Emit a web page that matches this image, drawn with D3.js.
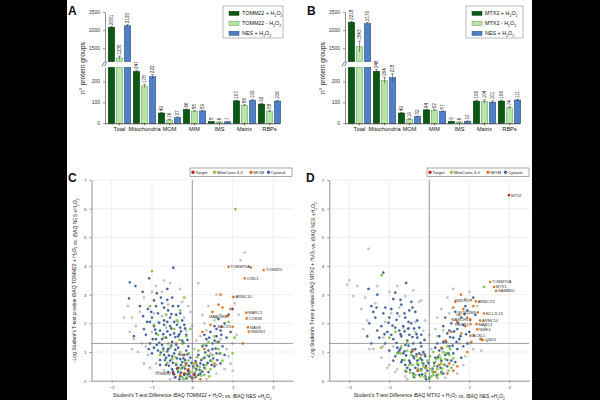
<!DOCTYPE html>
<html>
<head>
<meta charset="utf-8">
<script src="https://cdn.jsdelivr.net/npm/d3@7"></script>
<style>
  body { margin: 0; background: #000; }
  svg { display: block; font-family: "Liberation Sans", Arial, sans-serif; }
</style>
</head>
<body>
<div id="fig"></div>
<script>
// ---- bar chart data ----
const categories = ["Total", "Mitochondria", "MOM", "MIM", "IMS", "Matrix", "RBPs"];
const seriesA = ["TOMM22 + H2O2", "TOMM22 - H2O2", "NES + H2O2"];
const valuesA = [[2081, 1235, 2120], [247, 178, 222], [49, 16, 27], [66, 58, 59], [8, 6, 7], [107, 86, 109], [92, 58, 106]];
const errorsA = [[20, 50, 30], [5, 8, 10], [2, 3, 3], [2, 2, 2], [1, 1, 1], [3, 3, 4], [3, 4, 3]];
const seriesB = ["MTX2 + H2O2", "MTX2 - H2O2", "NES + H2O2"];
const valuesB = [[2218, 1543, 2179], [248, 204, 218], [49, 19, 32], [64, 62, 57], [9, 6, 10], [106, 104, 101], [106, 74, 111]];
const errorsB = [[25, 150, 30], [8, 15, 18], [2, 3, 2], [2, 2, 2], [1, 1, 1], [5, 8, 6], [4, 5, 3]];
const lowTicks = [0, 100, 200];
const highTicks = [1500, 2000, 2500];

// ---- volcano data: [difference, -log p] ----
const scatterTicksX = [-2, -1, 0, 1, 2];
const scatterTicksY = [0, 1, 2, 3, 4, 5, 6, 7];
const legendNames = ["Target", "MitoCarta 3.0", "MOM", "Cytosol"];

const greyC = [[-1.6,2.6],[-1.7,2.2],[-1.5,2.2],[-1.3,2.4],[-1.2,2.9],[-0.9,3.3],[-0.7,3.5],[-0.55,3.4],[-0.3,3.2],[-0.1,2.6],[-1.4,1.9],[-1.55,1.7],[-1.25,1.3],[-1.35,1.0],[-1.1,0.9],[-0.9,0.6],[-0.7,0.35],[-0.45,0.1],[0.15,3.4],[0.25,2.3],[0.4,2.6],[0.55,2.1],[0.7,1.45],[0.85,1.1],[0.95,0.6],[1.0,0.35],[1.2,4.2],[1.3,4.47],[0.35,0.05],[0.6,0.25],[-0.6,2.65],[-0.85,2.05],[-1.0,1.7],[-0.2,2.2],[0.1,1.4],[0.0,1.9],[-0.05,2.4],[0.3,2.0],[-1.2,0.6],[-1.45,1.45],[1.05,2.7],[0.8,0.4],[-0.75,3.1],[-1.0,3.1],[1.15,2.3],[0.6,3.0],
  [-0.95,2.35],[-1.15,1.2],[-0.65,1.85],[-0.35,2.05],[-0.15,1.75],[0.05,1.1],[0.2,1.55],[0.45,0.95],[0.6,0.55],[-0.85,0.3],[-0.55,0.05],[0.9,0.85],[1.1,1.6],[-1.5,1.1],[-1.05,0.45],[-0.25,2.75],[0.35,1.75],[-0.75,2.25],[0.7,2.3],[1.0,1.3]];
const blueC = [[-1.55,3.43],[-1.07,3.57],[-1.41,3.3],[-1.23,3.1],[-1.57,2.87],[-0.47,3.94],[-0.88,3.05],[-0.62,3.2],[-0.95,2.8],[-1.3,2.6],[-1.1,2.5],[-0.75,2.7],[-0.5,2.9],[-0.35,2.6],[-1.45,1.55],[-1.2,1.8],[-1.0,2.2],[-0.85,2.35],[-0.6,2.45],[-0.4,2.3],[-0.25,2.1],[-0.7,2.1],[-0.95,1.9],[-1.15,1.6],[-0.8,1.75],[-0.55,1.9],[-0.3,1.85],[-0.15,1.6],[-0.45,1.65],[-0.65,1.5],[-0.9,1.45],[-1.05,1.3],[-0.75,1.25],[-0.5,1.35],[-0.25,1.4],[-0.1,1.2],[-0.35,1.15],[-0.6,1.1],[-0.85,1.05],[-1.0,0.95],[-0.7,0.9],[-0.45,0.95],[-0.2,0.9],[-0.05,0.8],[-0.3,0.75],[-0.55,0.7],[-0.8,0.72],[-0.65,0.55],[-0.4,0.55],[-0.15,0.6],[0.02,0.5],[-0.25,0.45],[-0.5,0.4],[-0.35,0.3],[-0.1,0.35],[-0.2,0.2],[-0.05,0.15],[0.05,0.25],[-0.3,0.15],[-0.45,0.22],[-0.6,0.3],[-0.15,0.08],[-0.9,2.6],[-0.7,2.55],[-0.55,2.2],[-0.3,2.35],[-1.05,2.05],[-0.45,2.05],[-0.2,1.95],[-0.7,1.95],[-0.9,1.65],[-0.35,1.55],[-0.55,1.6],[-0.75,1.45],[-0.4,1.25],[-0.15,1.05],[-0.95,1.15],[-0.65,0.8],[-0.25,0.65],[-0.5,0.85],[-0.8,0.55],[0.1,0.4],[0.2,0.6],[0.3,0.8],[0.15,0.9],[0.4,1.05],[0.25,1.2],[0.5,1.3],[0.35,1.45],[0.6,1.55],[0.45,1.7],[0.7,1.75],[0.55,1.9],[0.8,2.0],[0.65,2.15],[0.9,2.3],[0.3,0.45],[0.45,0.7],[0.6,0.95],[0.2,0.25],[0.75,1.2],[0.55,0.5],[0.4,0.3],[0.85,1.5],[0.7,0.6],[0.5,1.1],[0.95,1.7],[0.3,1.6],[0.65,1.35],[1.0,2.5],[0.8,0.9],
  [-0.72,1.62],[-0.62,1.72],[-0.52,1.82],[-0.42,1.52],[-0.32,1.62],[-0.22,1.32],[-0.12,1.42],[-0.82,1.32],[-0.72,1.12],[-0.62,1.02],[-0.52,1.22],[-0.42,1.08],[-0.32,0.92],[-0.22,0.78],[-0.12,0.92],[-0.02,0.62],[-0.78,0.98],[-0.68,0.72],[-0.58,0.88],[-0.48,0.62],[-0.38,0.78],[-0.28,0.55],[-0.18,0.72],[-0.08,0.52],[-0.58,0.52],[-0.48,0.32],[-0.38,0.42],[-0.28,0.28],[-0.18,0.42],[-0.08,0.25],[-0.42,0.12],[-0.32,0.05],[-0.12,0.22],[-0.88,1.25],[-0.92,1.78],[-0.82,2.02],[-0.62,2.05],[-0.52,2.32],[-0.38,1.95],[-0.28,1.72],[-0.18,1.82],[-0.48,2.6],[-0.62,2.82],[-0.78,2.9],[-1.02,2.4],[-1.12,2.05],[-1.22,2.25],[-0.98,1.45],[-1.08,1.1],[0.08,0.12],[0.12,0.52],[0.18,0.38],[0.22,0.72],[0.28,0.55],[0.32,0.98],[0.38,0.62],[0.42,0.85],[0.48,0.55],[0.52,0.78],[0.58,1.12],[0.62,0.72],[0.35,1.22],[0.42,1.5],[0.68,0.95],[0.25,0.32],[0.08,0.68],[0.15,0.2],[0.55,1.4],[0.72,1.6],[0.6,1.8]];
const greenC = [[1.07,5.98],[-1.0,3.82],[-0.2,2.9],[-0.85,1.6],[-0.6,1.3],[-0.3,1.0],[-0.5,0.75],[-0.2,0.5],[-0.05,0.3],[0.1,0.15],[0.2,0.35],[0.35,0.55],[0.5,0.9],[0.25,0.75],[0.65,1.1],[-0.35,0.35],[-0.15,0.25],[0,0.05],[0.05,0.45],[-0.4,0.6],[-0.7,1.5],[-1.05,2.6],[-0.45,1.8],[-0.25,1.3],[0.4,1.35],[0.75,0.7],[1.0,0.95],[1.05,1.5],[0.6,2.2],[-0.1,0.7],[0.15,1.05],[-0.55,1.15],[-0.8,0.9],[0.3,0.2],[-0.25,0.12],[0.45,0.4],[-0.05,1.8],[-0.65,2.3],[0.55,1.55],[0.9,2.05],[-0.95,1.95],[-0.3,2.45],
  [-0.12,0.12],[0.08,0.32],[-0.28,0.42],[0.22,0.18],[-0.18,0.62],[0.32,0.42],[-0.42,0.82],[0.12,0.82],[-0.08,0.95],[0.38,0.88],[-0.62,0.62],[0.28,1.25],[-0.32,1.42],[0.05,0.6],[-0.48,0.25],[0.42,0.15],[-0.72,1.05],[0.18,0.48],[-0.22,0.05],[0.48,0.7],[0.6,1.35],[-0.38,2.1],[-0.15,1.55],[0.7,0.95]];
const orangeC = [[-0.4,1.3],[-0.25,0.9],[-0.1,0.4],[0.1,0.6],[0.3,1.1],[0.25,1.7],[0.5,2.4],[0.65,2.65],[0.75,2.55],[0.85,2.25],[0.7,3.0],[0.95,2.5],[0.45,1.95],[1.25,1.3],[0.55,0.6],[-0.3,0.2],[0.2,0.05],[-0.15,0.55],[0.72,1.88],[1.45,3.95]];
const redC = [[-0.1,0.35],[0,0.1],[-0.2,0.25],[0.05,0.2],[-0.35,0.45]];
// labelled proteins: [name, x, y, group, side]
const labelsC = [["TOMM22",-0.47,0.26,"Target","left"],["TOMM70A",0.90,3.97,"MOM","right"],["TOMM20",1.77,3.86,"MOM","right"],["CISD1",1.30,3.57,"MOM","right"],["ARMC10",1.02,2.92,"MOM","right"],["MARC1",1.34,2.37,"MOM","right"],["CYB5B",1.35,2.17,"MOM","right"],["MAVS",1.38,1.86,"MOM","right"],["RMDN3",1.40,1.71,"MOM","right"],["MARCH5",0.88,2.25,"MOM","left"],["BACX3",1.0,1.88,"MOM","left"]];

const greyD = [[-1.52,4.6],[-2.0,3.5],[-2.05,3.35],[-1.8,3.3],[-1.6,2.9],[-1.7,2.5],[-1.3,3.3],[-1.0,3.1],[-0.8,3.3],[-0.4,3.15],[-0.2,2.8],[-1.55,2.1],[-1.65,1.8],[-1.4,1.1],[-1.2,0.8],[-1.0,0.55],[-0.8,0.4],[-0.6,0.15],[-1.35,2.7],[-1.1,2.05],[-0.75,2.55],[-0.55,1.8],[-0.1,2.1],[0.0,1.6],[0.15,1.8],[0.3,2.5],[0.45,2.9],[0.6,3.2],[0.9,2.85],[1.0,3.1],[1.2,2.6],[1.4,1.9],[1.45,1.38],[1.1,1.1],[0.85,0.55],[0.7,0.25],[0.4,0.1],[-0.35,1.7],[-0.9,1.2],[-1.15,1.5],[1.3,1.05],[0.2,2.2],[-0.6,2.95],[0.75,1.3],[0.5,2.35],[-1.9,2.95],
  [-0.95,2.35],[-1.15,1.2],[-0.65,1.85],[-0.35,2.05],[-0.15,1.75],[0.05,1.1],[0.2,1.55],[0.45,0.95],[0.6,0.55],[-0.85,0.3],[-0.55,0.05],[0.9,0.85],[1.1,1.6],[-1.5,1.1],[-1.05,0.45],[-0.25,2.75],[0.35,1.75],[-0.75,2.25],[0.7,2.3],[1.0,1.3]];
const blueD = [[-1.52,3.2],[-1.15,3.77],[-0.58,3.41],[-0.85,3.07],[-1.3,3.0],[-1.45,2.6],[-1.5,2.0],[-1.35,2.2],[-1.1,2.55],[-0.9,2.85],[-0.7,2.65],[-0.45,2.75],[-1.2,1.9],[-1.0,2.2],[-0.8,2.35],[-0.6,2.2],[-0.35,2.4],[-1.25,1.5],[-1.05,1.7],[-0.85,1.85],[-0.65,1.9],[-0.45,2.0],[-0.25,1.85],[-1.1,1.3],[-0.9,1.45],[-0.7,1.55],[-0.5,1.6],[-0.3,1.5],[-1.0,1.05],[-0.8,1.15],[-0.6,1.25],[-0.4,1.3],[-0.2,1.2],[-0.85,0.85],[-0.65,0.95],[-0.45,1.0],[-0.25,0.95],[-0.1,0.85],[-0.7,0.65],[-0.5,0.7],[-0.3,0.7],[-0.15,0.6],[-0.55,0.45],[-0.35,0.45],[-0.2,0.4],[-0.05,0.35],[-0.4,0.25],[-0.25,0.2],[-0.1,0.15],[0.0,0.1],[-0.75,1.75],[-0.55,1.4],[-0.95,1.6],[-0.35,1.1],[-0.75,1.05],[-0.4,0.85],[-0.6,0.55],[-1.15,2.35],[-0.95,2.5],[-1.3,1.75],[-0.5,2.45],[-0.3,2.1],[-1.45,1.3],[-1.55,1.55],[-1.4,2.4],[-0.2,1.6],[-0.15,1.0],[-0.9,0.7],[0.1,0.3],[0.2,0.5],[0.3,0.7],[0.15,0.8],[0.4,0.9],[0.25,1.05],[0.5,1.2],[0.35,1.35],[0.6,1.5],[0.45,1.65],[0.7,1.8],[0.55,2.0],[0.8,2.2],[0.65,2.4],[0.9,2.6],[1.1,2.9],[0.95,2.45],[0.75,1.45],[0.85,1.95],[0.6,0.95],[0.45,0.5],[0.3,0.3],[0.7,1.1],[1.0,1.7],[0.5,1.75],[0.4,2.2],[0.35,1.9],[0.2,1.3],[1.15,2.3],[0.95,1.3],[0.55,0.7],[0.8,0.8],
  [-0.72,1.62],[-0.62,1.72],[-0.52,1.82],[-0.42,1.52],[-0.32,1.62],[-0.22,1.32],[-0.12,1.42],[-0.82,1.32],[-0.72,1.12],[-0.62,1.02],[-0.52,1.22],[-0.42,1.08],[-0.32,0.92],[-0.22,0.78],[-0.12,0.92],[-0.02,0.62],[-0.78,0.98],[-0.68,0.72],[-0.58,0.88],[-0.48,0.62],[-0.38,0.78],[-0.28,0.55],[-0.18,0.72],[-0.08,0.52],[-0.58,0.32],[-0.48,0.38],[-0.38,0.12],[-0.28,0.35],[-0.18,0.22],[-0.08,0.05],[-0.92,1.92],[-0.82,2.12],[-0.62,2.35],[-0.52,2.05],[-0.38,1.82],[-1.02,2.02],[-1.12,1.62],[-1.32,2.55],[-0.72,2.82],[-0.42,2.55],[0.08,0.42],[0.12,0.62],[0.18,0.18],[0.22,0.82],[0.28,0.45],[0.32,1.12],[0.38,0.55],[0.42,1.35],[0.48,0.95],[0.52,1.52],[0.58,1.22],[0.62,1.72],[0.68,1.35],[0.72,2.02],[0.78,1.55],[0.88,2.32],[0.92,1.62],[1.02,2.12],[0.25,1.55],[0.15,1.15],[0.35,0.25],[0.45,0.72],[0.65,0.65],[0.85,1.2]];
const greenD = [[-1.19,3.68],[1.37,3.27],[-1.0,1.5],[-0.7,1.2],[-0.45,0.9],[-0.3,0.6],[-0.2,0.35],[-0.1,0.25],[0.0,0.05],[0.1,0.2],[0.2,0.4],[0.3,0.6],[0.15,0.65],[0.4,0.75],[0.25,0.9],[-0.35,0.2],[-0.15,0.5],[-0.5,0.55],[0.05,0.4],[0.35,1.0],[-0.6,0.35],[0.5,0.9],[-0.05,0.7],[-0.25,0.75],[0.45,1.2],[-1.2,1.15],[-0.8,0.95],[0.2,0.1],[-0.4,0.15],[0.3,0.25],[1.3,1.45],[0.55,0.45],[-0.55,1.05],[0.1,1.0],[-0.85,1.7],
  [-0.12,0.12],[0.08,0.32],[-0.28,0.42],[0.22,0.22],[-0.18,0.62],[0.32,0.42],[-0.42,0.55],[0.12,0.52],[-0.08,0.45],[0.38,0.55],[-0.62,0.72],[0.28,0.78],[-0.32,0.85],[0.05,0.15],[-0.48,0.28],[0.42,0.95],[-0.72,0.95],[0.18,0.75],[-0.22,0.15],[0.48,0.35],[0.6,0.78],[-0.55,1.35],[0.02,0.85],[0.52,1.1]];
const orangeD = [[0.79,3.0],[0.65,2.75],[0.6,2.55],[0.85,2.5],[0.75,2.3],[0.95,2.2],[1.1,2.6],[0.7,2.05],[0.55,1.7],[0.9,1.9],[0.8,1.65],[1.05,1.35],[0.4,1.4],[0.3,1.15],[0.5,0.6],[0.6,0.35],[0.25,0.55],[-0.2,0.9],[-0.4,1.05],[-0.1,0.45],[0.15,0.3],[-0.3,0.35],[0.45,0.25],[1.28,1.45],[0.95,1.0],[0.7,0.5]];
const redD = [];
const labelsD = [["MTX2",1.99,6.47,"Target","right"],["TOMM70A",1.52,3.44,"MOM","right"],["MTX1",1.62,3.27,"MOM","right"],["SAMM50",1.67,3.13,"MOM","right"],["RMDN3",1.04,2.81,"MOM","left"],["ARMCX3",1.16,2.77,"MOM","right"],["SYNJ2BP",1.21,2.38,"MOM","left"],["BCL2L13",1.37,2.34,"MOM","right"],["MARCH5",1.02,2.13,"MOM","left"],["ARMC10",1.27,2.1,"MOM","right"],["MARC1",1.18,1.97,"MOM","right"],["RHOT1",1.03,1.97,"MOM","left"],["NME3",1.2,1.79,"MOM","right"],["ACSL1",1.03,1.57,"MOM","right"],["CISD1",1.33,1.42,"MOM","right"]];

const barColors = ["#0b5a14", "#b9e4a9", "#4f80c6"];
const barStrokes = ["#05300a", "#5f9a55", "#22447a"];
const groupColors = { Target: "#d7191c", "MitoCarta 3.0": "#8fd43a", MOM: "#f07a1a", Cytosol: "#3e67a8", grey: "#c8c8c8" };
const groupStrokes = { Target: "#8a0e10", "MitoCarta 3.0": "#4f8e1a", MOM: "#a44d0c", Cytosol: "#22406e", grey: "#9a9a9a" };

const svg = d3.select("#fig").append("svg").attr("width", 600).attr("height", 400);
svg.append("rect").attr("width", 600).attr("height", 400).attr("fill", "#000");
svg.append("rect").attr("x", 67).attr("width", 465).attr("height", 400).attr("fill", "#fff");

// write text with H2O2 as subscripted tspans
function chemText(sel, str, size) {
  const parts = str.split(/(H2O2)/);
  parts.forEach(p => {
    if (p === "H2O2") {
      sel.append("tspan").text("H");
      sel.append("tspan").attr("dy", size * 0.25).attr("font-size", size * 0.65).text("2");
      sel.append("tspan").attr("dy", -size * 0.25).text("O");
      sel.append("tspan").attr("dy", size * 0.25).attr("font-size", size * 0.65).text("2");
      sel.append("tspan").attr("dy", -size * 0.25).text("");
    } else if (p.length) {
      sel.append("tspan").text(p);
    }
  });
}

function panelLetter(x, y, t) {
  svg.append("text").attr("x", x).attr("y", y).attr("font-size", 12).attr("font-weight", "bold")
    .attr("fill", "#111").text(t);
}

function drawBars(ox, values, errors, series, legendX, legendW) {
  const g = svg.append("g").attr("transform", `translate(${ox},0)`);
  const x = d3.scaleBand().domain(categories).range([107, 282]).paddingInner(0.1).paddingOuter(0.05);
  const xs = d3.scaleBand().domain(d3.range(3)).range([0, x.bandwidth()]).paddingInner(0.2);
  const yLow = d3.scaleLinear().domain([0, 267]).range([123.3, 67.3]);
  const yHigh = d3.scaleLinear().domain([1130, 2500]).range([61.7, 12]);
  const topY = v => v > 267 ? yHigh(v) : yLow(v);

  categories.forEach((c, i) => {
    values[i].forEach((v, j) => {
      const bx = x(c) + xs(j);
      const bw = xs.bandwidth();
      if (v > 267) {
        g.append("rect").attr("x", bx).attr("y", yLow(267)).attr("width", bw).attr("height", yLow(0) - yLow(267))
          .attr("fill", barColors[j]).attr("stroke", barStrokes[j]).attr("stroke-width", 0.5);
        g.append("rect").attr("x", bx).attr("y", yHigh(v)).attr("width", bw).attr("height", yHigh(1130) - yHigh(v))
          .attr("fill", barColors[j]).attr("stroke", barStrokes[j]).attr("stroke-width", 0.5);
      } else {
        g.append("rect").attr("x", bx).attr("y", yLow(v)).attr("width", bw).attr("height", yLow(0) - yLow(v))
          .attr("fill", barColors[j]).attr("stroke", barStrokes[j]).attr("stroke-width", 0.5);
      }
      // error bar
      const e = errors[i][j];
      const cx = bx + bw / 2;
      const yt = topY(v + e), yb = topY(Math.max(v - e, 0));
      g.append("line").attr("x1", cx).attr("x2", cx).attr("y1", yt).attr("y2", yb).attr("stroke", "#333").attr("stroke-width", 0.5);
      g.append("line").attr("x1", cx - 1.5).attr("x2", cx + 1.5).attr("y1", yt).attr("y2", yt).attr("stroke", "#333").attr("stroke-width", 0.5);
      // value label
      g.append("text").attr("transform", `translate(${cx + 1.5},${yt - 1.5}) rotate(-90)`)
        .attr("font-size", 4.6).attr("fill", "#222").text(v);
    });
  });

  const axLow = g.append("g").attr("transform", "translate(105,0)")
    .call(d3.axisLeft(yLow).tickValues(lowTicks).tickFormat(d3.format("d")).tickSize(2).tickSizeOuter(0));
  const axHigh = g.append("g").attr("transform", "translate(105,0)")
    .call(d3.axisLeft(yHigh).tickValues(highTicks).tickFormat(d3.format("d")).tickSize(2).tickSizeOuter(0));
  [axLow, axHigh].forEach(a => {
    a.selectAll("text").attr("font-size", 5).attr("fill", "#333").attr("font-family", "Liberation Sans, Arial, sans-serif");
    a.selectAll("line,path").attr("stroke", "#444").attr("stroke-width", 0.6);
  });
  // axis break marks
  [-1.2, 1.2].forEach(d => {
    g.append("line").attr("x1", 103 + d).attr("x2", 106 + d).attr("y1", 66.5).attr("y2", 61.5)
      .attr("stroke", "#222").attr("stroke-width", 0.6);
  });

  const axX = g.append("g").attr("transform", `translate(0,${yLow(0)})`)
    .call(d3.axisBottom(x).tickSize(2).tickSizeOuter(0));
  axX.select("path").attr("d", "M105,0.5H280").attr("stroke", "#222").attr("stroke-width", 0.7);
  axX.selectAll("line").attr("stroke", "#222").attr("stroke-width", 0.6);
  axX.selectAll("text").attr("font-size", 5.6).attr("fill", "#111").attr("dy", "0.55em")
    .attr("font-family", "Liberation Sans, Arial, sans-serif");

  g.append("text").attr("transform", "translate(85,68) rotate(-90)").attr("text-anchor", "middle")
    .attr("font-size", 6.8).attr("fill", "#111").text("n° protein groups");

  // legend
  const lg = svg.append("g");
  lg.append("rect").attr("x", legendX).attr("y", 6).attr("width", legendW).attr("height", 32)
    .attr("fill", "#fff").attr("stroke", "#777").attr("stroke-width", 0.5);
  series.forEach((s, j) => {
    const yy = 13.3 + j * 10;
    lg.append("rect").attr("x", legendX + 6).attr("y", yy - 2).attr("width", 10).attr("height", 4)
      .attr("fill", barColors[j]).attr("stroke", barStrokes[j]).attr("stroke-width", 0.5);
    const t = lg.append("text").attr("x", legendX + 19).attr("y", yy + 2).attr("font-size", 5.4).attr("fill", "#111");
    chemText(t, s, 5.4);
  });
}

function drawVolcano(ox, xr, data, labels, xTitle, yTitle, legendX) {
  const x = d3.scaleLinear().domain([-2.5, 2.5]).range(xr);
  const y = d3.scaleLinear().domain([0, 7]).range([380.7, 180]);
  const g = svg.append("g");

  // grid
  scatterTicksX.forEach(t => g.append("line").attr("x1", x(t)).attr("x2", x(t)).attr("y1", 180).attr("y2", 380.7)
    .attr("stroke", "#e8e8e8").attr("stroke-width", 0.7));
  scatterTicksY.slice(1).forEach(t => g.append("line").attr("x1", xr[0]).attr("x2", xr[1]).attr("y1", y(t)).attr("y2", y(t))
    .attr("stroke", "#e8e8e8").attr("stroke-width", 0.7));

  const drawSet = (pts, grp) => {
    g.append("g").selectAll("circle").data(pts).join("circle")
      .attr("cx", d => x(d[0])).attr("cy", d => y(d[1])).attr("r", 1.15)
      .attr("fill", groupColors[grp]).attr("stroke", groupStrokes[grp]).attr("stroke-width", 0.3);
  };
  drawSet(data.grey, "grey");
  drawSet(data.blue, "Cytosol");
  drawSet(data.green, "MitoCarta 3.0");
  drawSet(data.orange, "MOM");
  drawSet(data.red, "Target");
  drawSet(labels.filter(l => l[3] === "MOM").map(l => [l[1], l[2]]), "MOM");
  drawSet(labels.filter(l => l[3] === "Target").map(l => [l[1], l[2]]), "Target");

  labels.forEach(l => {
    const right = l[4] === "right";
    g.append("text").attr("x", x(l[1]) + (right ? 2 : -2)).attr("y", y(l[2]) + 1.4)
      .attr("text-anchor", right ? "start" : "end").attr("font-size", 4).attr("fill", "#333").text(l[0]);
  });

  // threshold lines
  g.append("line").attr("x1", x(0)).attr("x2", x(0)).attr("y1", 180).attr("y2", 380.7).attr("stroke", "#777").attr("stroke-width", 0.7);
  g.append("line").attr("x1", xr[0]).attr("x2", xr[1]).attr("y1", y(1.3)).attr("y2", y(1.3)).attr("stroke", "#777").attr("stroke-width", 0.7);

  const ay = g.append("g").attr("transform", `translate(${xr[0]},0)`)
    .call(d3.axisLeft(y).tickValues(scatterTicksY).tickFormat(d3.format("d")).tickSize(2).tickSizeOuter(0));
  const ax = g.append("g").attr("transform", "translate(0,380.7)")
    .call(d3.axisBottom(x).tickValues(scatterTicksX).tickFormat(d3.format("d")).tickSize(2).tickSizeOuter(0));
  [ax, ay].forEach(a => {
    a.selectAll("path,line").attr("stroke", "#666").attr("stroke-width", 0.7);
    a.selectAll("text").attr("font-size", 4.4).attr("fill", "#444").attr("font-family", "Liberation Sans, Arial, sans-serif");
  });

  const tx = g.append("text").attr("x", x(0)).attr("y", 397).attr("text-anchor", "middle").attr("font-size", 5).attr("fill", "#222");
  chemText(tx, xTitle, 5);
  const ty = g.append("text").attr("transform", `translate(${ox + 76},${y(3.5)}) rotate(-90)`)
    .attr("text-anchor", "middle").attr("font-size", 5).attr("fill", "#222");
  chemText(ty, yTitle, 5);

  // legend
  const lg = g.append("g");
  lg.append("rect").attr("x", legendX).attr("y", 168).attr("width", 102).attr("height", 8.5)
    .attr("fill", "#fff").attr("stroke", "#555").attr("stroke-width", 0.5);
  const offs = [3, 24.5, 61, 78.5];
  legendNames.forEach((n, i) => {
    lg.append("circle").attr("cx", legendX + offs[i]).attr("cy", 172.2).attr("r", 1.5)
      .attr("fill", groupColors[n]).attr("stroke", groupStrokes[n]).attr("stroke-width", 0.3);
    lg.append("text").attr("x", legendX + offs[i] + 2.5).attr("y", 173.8).attr("font-size", 4.3).attr("fill", "#222").text(n);
  });
}

panelLetter(68, 15, "A");
panelLetter(307, 15, "B");
panelLetter(68, 182, "C");
panelLetter(306, 182, "D");

drawBars(0, valuesA, errorsA, seriesA, 223, 60);
drawBars(240, valuesB, errorsB, seriesB, 466, 57);

drawVolcano(0, [91.5, 293.1], { grey: greyC, blue: blueC, green: greenC, orange: orangeC, red: redC }, labelsC,
  "Student's T-test Difference iBAQ TOMM22 + H2O2 vs. iBAQ NES +H2O2",
  "-Log Student's T-test p-value iBAQ TOMM22 + H2O2 vs. iBAQ NES +H2O2", 190);
drawVolcano(238, [329.3, 529.3], { grey: greyD, blue: blueD, green: greenD, orange: orangeD, red: redD }, labelsD,
  "Student's T-test Difference iBAQ MTX2 + H2O2 vs. iBAQ NES +H2O2",
  "-Log Student's T-test p-value iBAQ MTX2 + H2O2 vs. iBAQ NES +H2O2", 427);
</script>
</body>
</html>
